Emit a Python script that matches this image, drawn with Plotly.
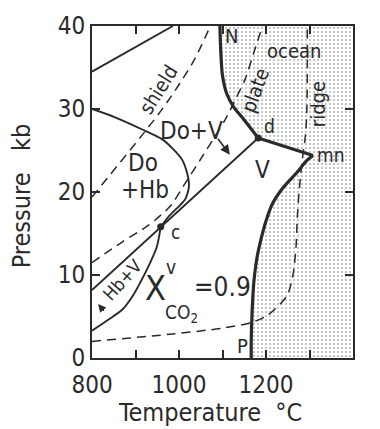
import plotly.graph_objects as go

# ---- phase boundaries (temperature in deg C, pressure in kb) ----
upper_line_T = [800, 986]
upper_line_P = [34.5, 40]

do_hb_T = [800, 853, 917, 960, 986, 1007, 1018, 1023, 1020, 1014, 1002, 979, 958]
do_hb_P = [30.0, 29.0, 27.5, 26.4, 25.2, 23.9, 22.4, 20.8, 19.9, 19.1, 18.4, 17.2, 15.8]

cd_line_T = [800, 958, 1182]
cd_line_P = [8.2, 15.8, 26.5]

hbv_lower_T = [800, 840, 871, 895, 910, 933, 949, 958]
hbv_lower_P = [3.3, 4.7, 5.9, 7.6, 9.0, 11.4, 13.4, 15.8]

solidus_upper_T = [1094, 1096, 1100, 1110, 1125, 1145, 1163, 1182]
solidus_upper_P = [40, 37, 34, 31.8, 30.3, 29.0, 27.8, 26.5]

dmn_T = [1182, 1308]
dmn_P = [26.5, 24.4]

solidus_lower_T = [1308, 1294, 1271, 1239, 1214, 1200, 1189, 1179, 1172, 1168, 1166, 1166]
solidus_lower_P = [24.4, 23.8, 22.35, 20.5, 18.5, 16.5, 14.4, 12.0, 9.1, 5.5, 2.0, 0]

# ---- geotherms ----
shield_T = [800, 922, 963, 1002, 1037, 1072]
shield_P = [19.4, 27.3, 30.1, 33.1, 36.1, 40]

plate_T = [800, 870, 930, 980, 1010, 1055, 1105, 1130, 1152, 1172, 1192]
plate_P = [11.5, 14.0, 16.0, 18.3, 20.7, 24.4, 28.6, 31.2, 33.6, 36.8, 40]

ridge_T = [800, 986, 1100, 1168, 1205, 1248, 1262, 1269, 1272, 1276, 1283, 1291, 1294, 1295, 1295]
ridge_P = [2.0, 2.9, 3.6, 4.3, 5.2, 7.5, 10.0, 13.4, 17.0, 20.0, 23.7, 27.0, 30.2, 35.0, 40]

# invariant points
pts_T = [958, 1182]
pts_P = [15.8, 26.5]

FONT = "DejaVu Sans Condensed, Liberation Sans Narrow, DejaVu Sans"
INK = "#2a2a2a"

fig = go.Figure()

# stippled melt field to the right of the solidus
fill_T = solidus_upper_T + dmn_T[1:] + solidus_lower_T[1:] + [1400, 1400, solidus_upper_T[0]]
fill_P = solidus_upper_P + dmn_P[1:] + solidus_lower_P[1:] + [0, 40, solidus_upper_P[0]]
fig.add_trace(go.Scatter(
    x=fill_T, y=fill_P, mode="lines", line=dict(width=0),
    fill="toself", fillcolor="rgba(0,0,0,0)",
    fillpattern=dict(shape=".", size=4, solidity=0.22, fgcolor="#6e6e6e", bgcolor="white"),
    hoverinfo="skip", showlegend=False))

def curve(x, y, width, dash="solid", shape="spline"):
    fig.add_trace(go.Scatter(x=x, y=y, mode="lines",
                             line=dict(color=INK, width=width, dash=dash, shape=shape, smoothing=0.8),
                             hoverinfo="skip", showlegend=False))

DASH = "9px,6px"
curve(shield_T, shield_P, 1.5, DASH)
curve(plate_T, plate_P, 1.5, DASH)
curve(ridge_T, ridge_P, 1.5, DASH)

curve(upper_line_T, upper_line_P, 1.9, shape="linear")
curve(do_hb_T, do_hb_P, 1.9)
curve(cd_line_T, cd_line_P, 1.9, shape="linear")
curve(hbv_lower_T, hbv_lower_P, 1.9)
curve(solidus_upper_T, solidus_upper_P, 3.2)
curve(dmn_T, dmn_P, 3.2, shape="linear")
curve(solidus_lower_T, solidus_lower_P, 3.2)

fig.add_trace(go.Scatter(x=pts_T, y=pts_P, mode="markers",
                         marker=dict(color=INK, size=7), hoverinfo="skip", showlegend=False))

def label(text, x, y, size=20, angle=0):
    fig.add_annotation(x=x, y=y, xref="x", yref="y", text=text, showarrow=False,
                       xanchor="center", yanchor="middle",
                       textangle=angle, font=dict(family=FONT, size=size, color=INK))

label("Do+V", 1028, 27.3, 24)
label("Do", 917, 23.5, 24)
label("+Hb", 922, 20.3, 24)
label("V", 1191, 22.6, 24)
label("c", 991, 15.2, 19)
label("d", 1207, 28.0, 19)
label("mn", 1349, 24.5, 19)
label("N", 1120, 38.8, 20)
label("P", 1145, 1.5, 20)
label("ocean", 1264, 37.0, 20)
label("ridge", 1320, 30.6, 20, -90)
label("plate", 1175, 32.3, 20, -70)
label("shield", 952, 32.3, 20, -58)
label("Hb+V", 871, 9.4, 18, -48)
label("X", 947, 8.4, 34)
label("v", 981, 11.0, 19)
label("CO<sub>2</sub>", 1006, 5.4, 19)
label("=0.9", 1100, 8.6, 26)

# direction arrows
fig.add_annotation(x=1117, y=24.5, ax=1087, ay=26.6, xref="x", yref="y", axref="x", ayref="y",
                   text="", showarrow=True, arrowhead=2, arrowsize=1.2, arrowwidth=1.6, arrowcolor=INK)
fig.add_annotation(x=814, y=6.5, ax=830, ay=5.5, xref="x", yref="y", axref="x", ayref="y",
                   text="", showarrow=True, arrowhead=2, arrowsize=1.0, arrowwidth=1.6, arrowcolor=INK)

# axis titles
fig.add_annotation(x=0.452, y=-0.164, xref="paper", yref="paper", text="Temperature\u00a0\u00a0°C",
                   xanchor="center", yanchor="middle",
                   showarrow=False, font=dict(family=FONT, size=25, color=INK))
fig.add_annotation(x=-0.272, y=0.487, xref="paper", yref="paper", text="Pressure\u00a0\u00a0\u00a0kb",
                   xanchor="center", yanchor="middle",
                   showarrow=False, textangle=-90, font=dict(family=FONT, size=25, color=INK))

axis_common = dict(showline=True, mirror="allticks", linecolor=INK, linewidth=2,
                   ticks="inside", ticklen=8, tickcolor=INK, tickwidth=1.5,
                   showgrid=False, zeroline=False,
                   tickfont=dict(family=FONT, size=24, color=INK))

fig.update_xaxes(range=[800, 1400], tickvals=[800, 900, 1000, 1100, 1200, 1300, 1400],
                 ticktext=["800", "", "1000", "", "1200", "", "1400"], ticklabelstandoff=4,
                 **axis_common)
fig.update_yaxes(range=[0, 40], tickvals=[0, 10, 20, 30, 40],
                 ticktext=["0", "10", "20", "30", "40"], **axis_common)

fig.update_layout(width=380, height=429, margin=dict(l=92, r=27, t=17, b=71),
                  paper_bgcolor="white", plot_bgcolor="white", showlegend=False)

fig.write_html("out.html")
